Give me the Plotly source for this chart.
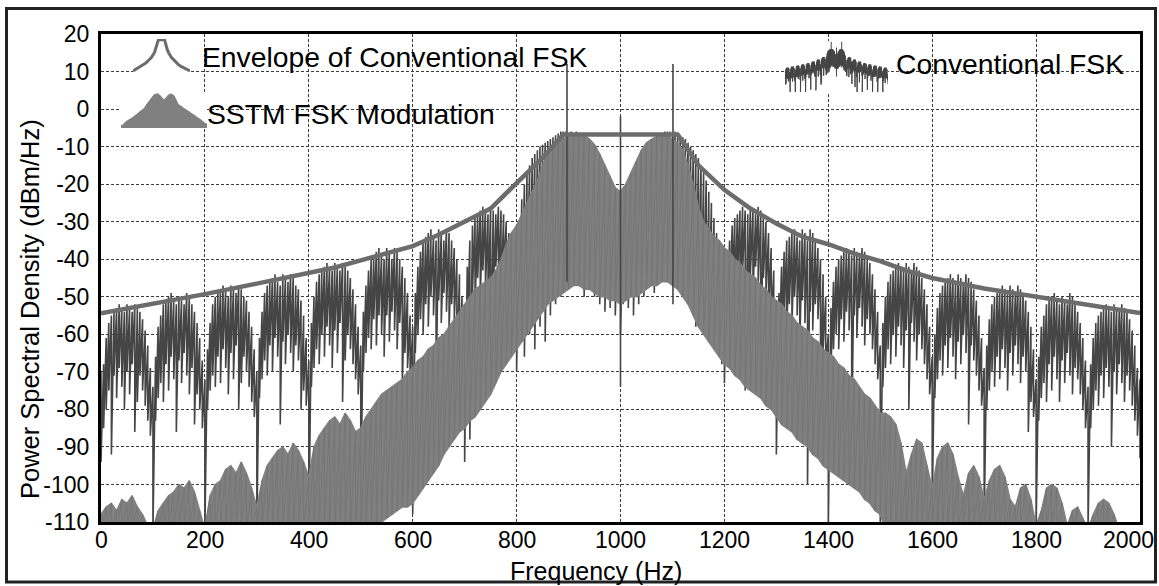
import numpy as np
import plotly.graph_objects as go

# ---------------------------------------------------------------- canvas
W, H = 1159, 586
ML, MR, MT, MB = 101, 19, 34, 64
PW, PH = W - ML - MR, H - MT - MB
FONT = "Liberation Sans, Arial, Helvetica, sans-serif"


def px_x(px):
    return (px - ML) / PW


def px_y(py):
    return (H - MB - py) / PH


# ---------------------------------------------------------------- data
# Conventional FSK, sampled every 5 Hz: upper and lower end of the trace.
# One row per 100 Hz side lobe (starting at the null).
CONV_TOP = [
    [-70, -68, -61, -57, -55, -54, -53, -52, -53, -54, -52, -53, -54, -52, -53, -54, -56, -59, -63, -69],
    [-74, -66, -58, -55, -52, -51, -50, -49, -51, -52, -50, -51, -52, -49, -50, -52, -54, -57, -61, -67],
    [-72, -64, -57, -52, -50, -49, -48, -47, -48, -50, -47, -48, -49, -47, -48, -50, -51, -54, -58, -64],
    [-70, -61, -54, -49, -47, -46, -45, -44, -46, -47, -44, -45, -46, -44, -45, -47, -48, -51, -55, -61],
    [-67, -57, -50, -46, -44, -43, -42, -41, -42, -43, -41, -42, -43, -41, -42, -43, -45, -48, -52, -58],
    [-63, -54, -47, -43, -40, -39, -38, -37, -39, -40, -37, -38, -40, -37, -38, -40, -42, -45, -49, -55],
    [-58, -49, -42, -38, -35, -34, -33, -32, -34, -35, -32, -33, -35, -32, -33, -35, -37, -40, -44, -50],
    [-52, -42, -35, -31, -29, -28, -27, -26, -27, -28, -26, -27, -28, -26, -27, -28, -30, -33, -37, -43],
    [-42, -30, -24, -20, -17, -15, -13, -12, -11, -10, -9.5, -9, -8.5, -8, -7.5, -7, -6.5, -6, -6, -6],
    [-7, -6, -6.5, -6, -6.5, -6.5, -7, -7.5, -8, -9, -10, -11, -12, -14, -16, -18, -20, -22, -25, -28],
    [-30, -28, -25, -22, -20, -18, -16, -14, -12, -11, -10, -9, -8, -7.5, -7, -6.5, -6.5, -6, -6, -6],
    [-7, -6, -6.5, -7, -7.5, -8, -9, -10, -11, -12, -13, -15, -17, -19, -22, -25, -29, -33, -38, -44],
    [-50, -42, -35, -31, -29, -28, -27, -26, -27, -28, -26, -27, -28, -26, -27, -28, -30, -33, -37, -43],
    [-55, -49, -42, -38, -35, -34, -33, -32, -34, -35, -32, -33, -35, -32, -33, -35, -37, -40, -44, -50],
    [-60, -53, -46, -42, -40, -39, -38, -37, -38, -39, -37, -38, -39, -37, -38, -40, -41, -44, -48, -54],
    [-63, -57, -50, -46, -44, -43, -42, -41, -42, -43, -41, -42, -43, -41, -42, -43, -45, -48, -52, -58],
    [-66, -60, -53, -49, -47, -46, -45, -44, -45, -46, -44, -45, -46, -44, -45, -46, -48, -51, -55, -61],
    [-69, -63, -56, -52, -50, -49, -48, -47, -48, -49, -47, -48, -49, -47, -48, -49, -51, -54, -58, -64],
    [-72, -66, -58, -55, -52, -51, -50, -49, -51, -52, -50, -51, -52, -49, -50, -52, -54, -57, -61, -67],
    [-74, -68, -61, -57, -55, -54, -53, -52, -53, -54, -52, -53, -54, -52, -53, -54, -56, -59, -63, -69],
    [-72],
]
CONV_BOT = [
    [-94, -85, -80, -75, -92, -71, -77, -69, -74, -80, -70, -76, -68, -86, -78, -71, -75, -79, -83, -87],
    [-112, -83, -77, -73, -78, -68, -75, -66, -72, -86, -67, -73, -65, -71, -76, -69, -84, -76, -80, -85],
    [-112, -80, -75, -71, -74, -66, -73, -64, -69, -76, -65, -72, -63, -80, -73, -66, -70, -74, -78, -82],
    [-112, -77, -72, -67, -71, -63, -70, -61, -66, -84, -62, -68, -60, -65, -70, -63, -67, -80, -75, -79],
    [-112, -74, -69, -64, -68, -60, -66, -58, -63, -69, -59, -65, -57, -78, -67, -60, -64, -68, -72, -76],
    [-106, -70, -65, -61, -64, -56, -63, -55, -60, -66, -55, -62, -54, -59, -64, -57, -74, -65, -69, -73],
    [-108, -65, -60, -56, -60, -52, -58, -50, -55, -74, -51, -57, -49, -54, -59, -52, -56, -70, -64, -68],
    [-94, -59, -88, -49, -53, -45, -51, -43, -48, -54, -72, -50, -42, -47, -52, -45, -49, -53, -57, -61],
    [-70, -62, -55, -66, -52, -60, -50, -64, -48, -58, -46, -62, -45, -55, -48, -52, -44, -50, -46, -48],
    [-46, -38, -44, -40, -46, -42, -50, -44, -48, -42, -50, -46, -52, -45, -54, -48, -53, -50, -55, -50],
    [-60, -52, -49, -53, -47, -55, -46, -52, -44, -50, -42, -47, -43, -49, -40, -46, -41, -44, -39, -45],
    [-40, -46, -41, -48, -43, -50, -45, -52, -48, -58, -50, -56, -52, -60, -54, -62, -57, -65, -60, -68],
    [-73, -59, -54, -49, -53, -45, -51, -43, -75, -54, -44, -50, -42, -47, -68, -45, -49, -53, -57, -61],
    [-92, -65, -60, -56, -60, -52, -58, -50, -55, -64, -51, -57, -100, -54, -59, -52, -56, -75, -64, -68],
    [-112, -70, -64, -60, -64, -56, -62, -54, -59, -88, -55, -61, -53, -58, -63, -56, -60, -64, -68, -72],
    [-112, -74, -69, -64, -68, -60, -66, -58, -63, -69, -59, -80, -57, -62, -67, -60, -64, -68, -72, -76],
    [-107, -77, -72, -67, -71, -63, -69, -61, -66, -72, -62, -68, -60, -65, -84, -63, -67, -71, -75, -79],
    [-112, -80, -75, -70, -74, -66, -72, -64, -69, -75, -65, -71, -63, -68, -73, -66, -70, -86, -78, -82],
    [-112, -83, -77, -73, -78, -68, -75, -66, -72, -78, -67, -73, -65, -71, -76, -69, -72, -76, -80, -85],
    [-112, -85, -80, -75, -79, -71, -77, -69, -74, -90, -70, -76, -68, -73, -78, -71, -75, -79, -83, -87],
    [-93],
]
CONV_STEP_HZ = 5

# SSTM FSK modulation, sampled every 10 Hz: top and bottom of the band.
SSTM_TOP = [
    [-108, -106, -105, -107, -104, -105, -103, -106, -108, -111],
    [-112, -107, -105, -103, -102, -100, -101, -99, -102, -107],
    [-112, -103, -100, -99, -96, -95, -97, -94, -97, -101],
    [-106, -99, -95, -93, -91, -90, -92, -89, -91, -94],
    [-98, -90, -87, -85, -83, -82, -84, -81, -83, -86],
    [-85, -82, -80, -78, -76, -75, -74, -73, -72, -70],
    [-69, -67, -66, -64, -63, -61, -60, -58, -56, -54],
    [-52, -50, -48, -47, -46, -45, -43, -40, -36, -33],
    [-31, -28, -25, -22, -19, -15, -12, -10, -9, -8],
    [-7, -7, -6.5, -7, -8, -9.5, -12, -15, -18, -21],
    [-22, -20, -17, -14, -11, -9, -8, -7.5, -7, -7.5],
    [-8, -9, -11, -15, -20, -26, -30, -32, -34, -35],
    [-37, -38, -40, -41, -43, -44, -45, -47, -48, -50],
    [-51, -52, -54, -55, -57, -58, -59, -61, -62, -64],
    [-65, -66, -68, -69, -71, -72, -74, -76, -77, -79],
    [-81, -81, -82, -84, -89, -97, -92, -88, -89, -95],
    [-101, -93, -90, -89, -92, -98, -103, -97, -95, -98],
    [-104, -99, -96, -95, -98, -104, -106, -101, -100, -104],
    [-111, -107, -101, -100, -101, -105, -111, -107, -106, -109],
    [-112, -108, -105, -104, -105, -108, -112, -112, -112, -112],
    [-112],
]
SSTM_BOT = [
    [-112, -112, -112, -112, -112, -112, -112, -112, -112, -112],
    [-112, -112, -112, -112, -112, -112, -112, -112, -112, -112],
    [-112, -112, -112, -112, -112, -112, -112, -112, -112, -112],
    [-112, -112, -112, -112, -112, -112, -112, -112, -112, -112],
    [-112, -112, -112, -112, -112, -112, -112, -112, -112, -112],
    [-112, -112, -112, -111, -110, -109, -108, -107, -106, -106],
    [-105, -103, -101, -99, -97, -95, -92, -90, -88, -86],
    [-85, -83, -82, -80, -78, -76, -73, -70, -68, -66],
    [-64, -62, -60, -58, -56, -54, -52, -51, -50, -49],
    [-48, -47, -47, -48, -48, -49, -50, -50, -51, -51],
    [-52, -51, -50, -50, -49, -48, -47, -47, -46, -46],
    [-47, -48, -50, -52, -55, -58, -60, -62, -64, -66],
    [-68, -69, -71, -72, -74, -75, -76, -77, -79, -80],
    [-82, -84, -85, -86, -88, -89, -90, -92, -93, -95],
    [-96, -97, -98, -99, -100, -101, -102, -104, -105, -107],
    [-108, -112, -112, -112, -112, -112, -112, -112, -112, -112],
    [-112, -112, -112, -112, -112, -112, -112, -112, -112, -112],
    [-112, -112, -112, -112, -112, -112, -112, -112, -112, -112],
    [-112, -112, -112, -112, -112, -112, -112, -112, -112, -112],
    [-112, -112, -112, -112, -112, -112, -112, -112, -112, -112],
    [-112],
]
SSTM_STEP_HZ = 10

# Envelope of the conventional FSK spectrum
ENV_F = [0, 100, 200, 300, 400, 450, 500, 550, 600, 650, 700, 750, 800, 850, 890,
         1110, 1150, 1200, 1250, 1300, 1350, 1400, 1450, 1500, 1550, 1600, 1700, 1800, 1900, 2000]
ENV_DB = [-54.4, -51.9, -49.3, -46.5, -43.8, -42.2, -40.3, -38.3, -36.5, -33.5, -30, -26.5, -19.7, -13, -6.8,
          -6.8, -15, -21.5, -26.5, -30.5, -34, -36, -38.5, -40.5, -43, -45, -47.8, -50, -52.3, -54.3]

# Discrete tone lines of the conventional FSK
TONE_F = [897, 1000, 1101]
TONE_TOP = [12, -2, 12]
TONE_BOT = [-46, -74, -52]

X_TICKS = [0, 200, 400, 600, 800, 1000, 1200, 1400, 1600, 1800, 2000]
Y_TICKS = [20, 10, 0, -10, -20, -30, -40, -50, -60, -70, -80, -90, -100, -110]
Y_TICK_TEXT = ["20", "10", "0", "-10", "-20", "-30", "-40", "-50", "-60", "-70", "-80", "-90", "-100", "-110"]

LABEL_ENV = "Envelope of Conventional FSK"
LABEL_SSTM = "SSTM FSK Modulation"
LABEL_CONV = "Conventional FSK"
X_TITLE = "Frequency (Hz)"
Y_TITLE = "Power Spectral Density (dBm/Hz)"

# ---------------------------------------------------------------- styles
C_CONV = "#454545"
C_SSTM = "#808080"
C_SSTM_STREAK = "#767676"
C_ENV = "#6c6c6c"

# ---------------------------------------------------------------- series prep
conv_top = np.concatenate([np.asarray(r, float) for r in CONV_TOP])
conv_bot = np.concatenate([np.asarray(r, float) for r in CONV_BOT])
conv_f = np.arange(len(conv_top)) * CONV_STEP_HZ
conv_x = np.repeat(conv_f, 2)
conv_y = np.column_stack([conv_top, conv_bot]).ravel()

sstm_top = np.concatenate([np.asarray(r, float) for r in SSTM_TOP])
sstm_bot = np.concatenate([np.asarray(r, float) for r in SSTM_BOT])
sstm_f = np.arange(len(sstm_top)) * SSTM_STEP_HZ
sstm_px = np.concatenate([sstm_f, sstm_f[::-1]])
sstm_py = np.concatenate([sstm_top, sstm_bot[::-1]])
sstm_zx = np.repeat(sstm_f, 2)
sstm_zy = np.column_stack([sstm_top, sstm_bot]).ravel()

tone_x, tone_y = [], []
for f, a, b in zip(TONE_F, TONE_TOP, TONE_BOT):
    tone_x += [f, f, None]
    tone_y += [a, b, None]

fig = go.Figure()

# main spectra
fig.add_trace(go.Scatter(x=conv_x, y=conv_y, mode="lines",
                         line=dict(color=C_CONV, width=1.6), hoverinfo="skip"))
fig.add_trace(go.Scatter(x=sstm_px, y=sstm_py, mode="lines", fill="toself",
                         fillcolor=C_SSTM, line=dict(color=C_SSTM, width=1.4),
                         hoverinfo="skip"))
fig.add_trace(go.Scatter(x=sstm_zx, y=sstm_zy, mode="lines",
                         line=dict(color=C_SSTM_STREAK, width=1), hoverinfo="skip"))
fig.add_trace(go.Scatter(x=tone_x, y=tone_y, mode="lines",
                         line=dict(color=C_CONV, width=1.6), hoverinfo="skip"))
fig.add_trace(go.Scatter(x=ENV_F, y=ENV_DB, mode="lines",
                         line=dict(color=C_ENV, width=4.5), hoverinfo="skip"))

# legend glyphs: miniature copies of each series
fig.add_trace(go.Scatter(x=ENV_F, y=ENV_DB, mode="lines", xaxis="x2", yaxis="y2",
                         line=dict(color=C_ENV, width=3), hoverinfo="skip"))
GLYPH_FLOOR = -120
fig.add_trace(go.Scatter(x=np.concatenate([sstm_f, [sstm_f[-1], 0]]),
                         y=np.concatenate([sstm_top, [GLYPH_FLOOR, GLYPH_FLOOR]]),
                         mode="lines", fill="toself", fillcolor=C_SSTM,
                         line=dict(color=C_SSTM, width=1), xaxis="x3", yaxis="y3",
                         hoverinfo="skip"))
fig.add_trace(go.Scatter(x=conv_x, y=conv_y, mode="lines", xaxis="x4", yaxis="y4",
                         line=dict(color=C_CONV, width=1), hoverinfo="skip"))
fig.add_trace(go.Scatter(x=tone_x, y=tone_y, mode="lines", xaxis="x4", yaxis="y4",
                         line=dict(color=C_CONV, width=1), hoverinfo="skip"))

grid = dict(showgrid=True, gridcolor="#3c3c3c", gridwidth=1.4, griddash="3px,2px",
            zeroline=False, showline=True, linecolor="black", linewidth=3,
            mirror=True, ticks="")

inset = dict(visible=False, fixedrange=True)

annotations = []
for v in X_TICKS:
    annotations.append(dict(x=v, xref="x", y=px_y(525), yref="paper",
                            text=str(v), showarrow=False, xanchor="center",
                            yanchor="top", xshift=-12 if v == X_TICKS[-1] else 0,
                            font=dict(family=FONT, size=23, color="black")))
annotations += [
    dict(x=px_x(596), y=px_y(571), xref="paper", yref="paper", text=X_TITLE,
         showarrow=False, xanchor="center", yanchor="middle",
         font=dict(family=FONT, size=25, color="black")),
    dict(x=px_x(30), y=px_y(309), xref="paper", yref="paper", text=Y_TITLE,
         showarrow=False, xanchor="center", yanchor="middle", textangle=-90,
         font=dict(family=FONT, size=25.5, color="black")),
    dict(x=px_x(200), y=px_y(57), xref="paper", yref="paper", text=LABEL_ENV,
         showarrow=False, xanchor="left", yanchor="middle",
         font=dict(family=FONT, size=28.3, color="black")),
    dict(x=px_x(205), y=px_y(114), xref="paper", yref="paper", text=LABEL_SSTM,
         showarrow=False, xanchor="left", yanchor="middle",
         font=dict(family=FONT, size=28.3, color="black")),
    dict(x=px_x(894), y=px_y(64), xref="paper", yref="paper", text=LABEL_CONV,
         showarrow=False, xanchor="left", yanchor="middle",
         font=dict(family=FONT, size=28.3, color="black")),
]

fig.update_layout(
    width=W, height=H,
    margin=dict(l=ML, r=MR, t=MT, b=MB, pad=0),
    paper_bgcolor="white", plot_bgcolor="white",
    showlegend=False,
    font=dict(family=FONT, size=23, color="black"),
    xaxis=dict(range=[0, 2000], tickvals=X_TICKS, showticklabels=False, **grid),
    yaxis=dict(range=[-110, 20], tickvals=Y_TICKS, ticktext=Y_TICK_TEXT,
               ticklabelstandoff=4, tickfont=dict(family=FONT, size=23, color="black"),
               **grid),
    xaxis2=dict(domain=[px_x(133), px_x(190)], anchor="y2", range=[0, 2000], **inset),
    yaxis2=dict(domain=[px_y(72), px_y(39)], anchor="x2", range=[-56, -5.5], **inset),
    xaxis3=dict(domain=[px_x(121), px_x(207)], anchor="y3", range=[480, 1520], **inset),
    yaxis3=dict(domain=[px_y(128), px_y(92)], anchor="x3", range=[-92, -2], **inset),
    xaxis4=dict(domain=[px_x(785), px_x(888)], anchor="y4", range=[0, 2000], **inset),
    yaxis4=dict(domain=[px_y(92), px_y(41)], anchor="x4", range=[-112, 14], **inset),
    annotations=annotations,
    shapes=[dict(type="rect", xref="paper", yref="paper",
                 x0=px_x(6.5), x1=px_x(1155.5), y0=px_y(582), y1=px_y(8.5),
                 line=dict(color="#222222", width=3), layer="above")],
)

fig.write_html("out.html")
